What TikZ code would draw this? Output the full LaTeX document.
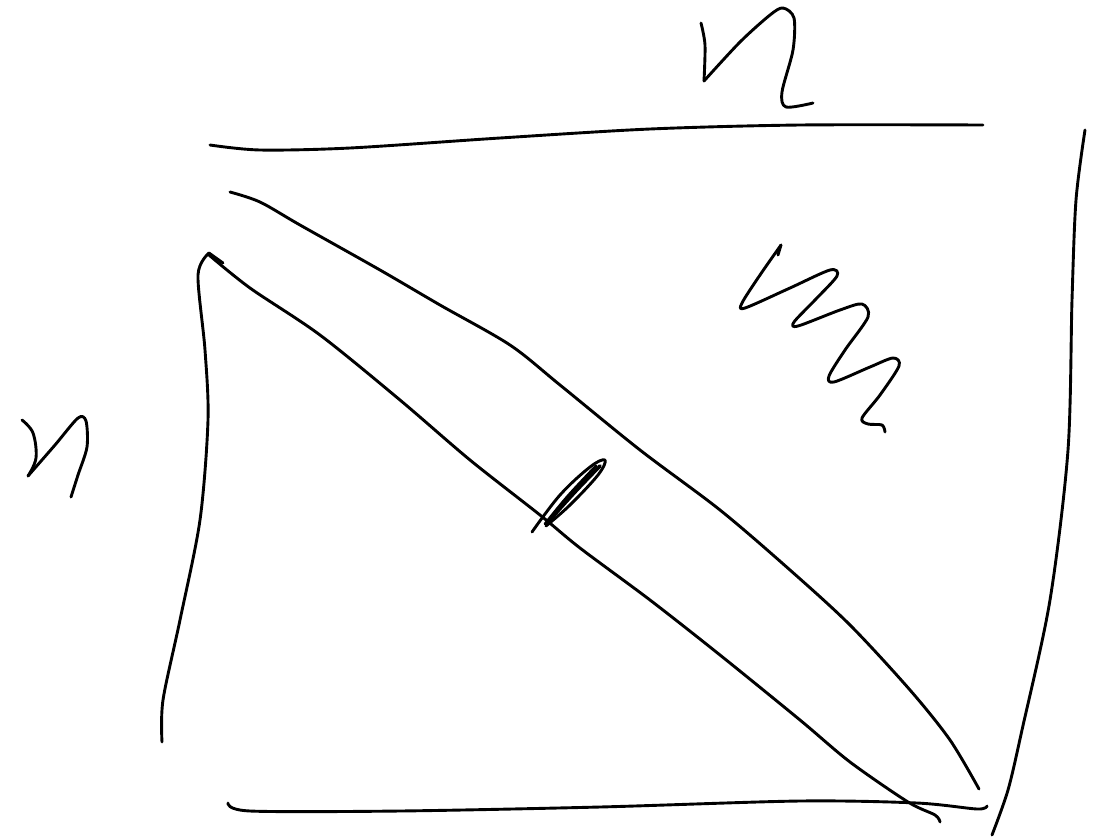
\documentclass[tikz,border=0pt]{standalone}
\begin{document}
\begin{tikzpicture}[x=1pt,y=-1pt,
  ink/.style={line width=2.9pt,line cap=round,line join=round,black}]
\useasboundingbox (0,0) rectangle (1098,839);
\fill[white] (0,0) rectangle (1098,839);
% top n
\draw[ink] plot[smooth,tension=0.5] coordinates {(701,23) (705,45) (704,81)};
\draw[ink] plot[smooth,tension=0.5] coordinates {(704,81) (740,42) (770,15) (783,8) (794,18) (793,50) (782,92) (786,107) (813,103)};
% top line
\draw[ink] plot[smooth] coordinates {(210,145) (260,150) (350,148) (500,138) (650,129) (800,125) (983,125)};
% right line
\draw[ink] plot[smooth] coordinates {(1085,130) (1076,200) (1072,300) (1068,450) (1050,600) (1022,730) (1008,790) (992,835)};
% left bracket
\draw[ink] plot[smooth] coordinates {(162,742) (163,700) (180,620) (200,520) (208,420) (205,350) (198,275) (209,253)};
\draw[ink] (209,253) -- (223,263);
% bottom line
\draw[ink] plot[smooth] coordinates {(228,803) (250,811) (400,811) (600,807) (800,801) (917,803) (977,809) (987,806)};
% upper diagonal
\draw[ink] plot[smooth] coordinates {(230,192) (260,202) (300,225) (380,270) (440,305) (510,345) (560,385) (640,450) (720,510) (790,570) (850,625) (910,690) (950,740) (979,789)};
% lower diagonal
\draw[ink] plot[smooth] coordinates {(209,255) (250,288) (320,335) (400,400) (470,460) (540,515) (580,548) (650,600) (720,655) (800,720) (850,762) (908,802) (935,815) (940,822)};
% central mark
\draw[ink] plot[smooth,tension=0.6] coordinates {(532,532) (560,495) (590,467) (605,460) (598,475) (570,505) (546,526)};
\draw[ink,line width=3.6pt] plot[smooth,tension=0.6] coordinates {(548,522) (575,492) (600,466)};
\draw[ink] plot[smooth,tension=0.6] coordinates {(545,524) (568,496) (596,466)};
% m scribble
\draw[ink] plot[smooth,tension=0.5] coordinates {(781,245) (760,275) (742,303) (745,308) (790,288) (830,270) (837,276) (815,300) (794,322) (798,326) (840,310) (862,304) (868,317) (845,350) (829,376) (834,382) (870,367) (893,358) (899,366) (880,395) (862,418) (868,424) (882,425) (885,432)};
\draw[ink] (781,245) -- (778,255);
% left n
\draw[ink] plot[smooth,tension=0.6] coordinates {(22,420) (33,433) (36,458) (28,476)};
\draw[ink] plot[smooth,tension=0.5] coordinates {(28,476) (55,445) (78,418) (86,421) (87,447) (78,475) (71,497)};
\end{tikzpicture}
\end{document}
